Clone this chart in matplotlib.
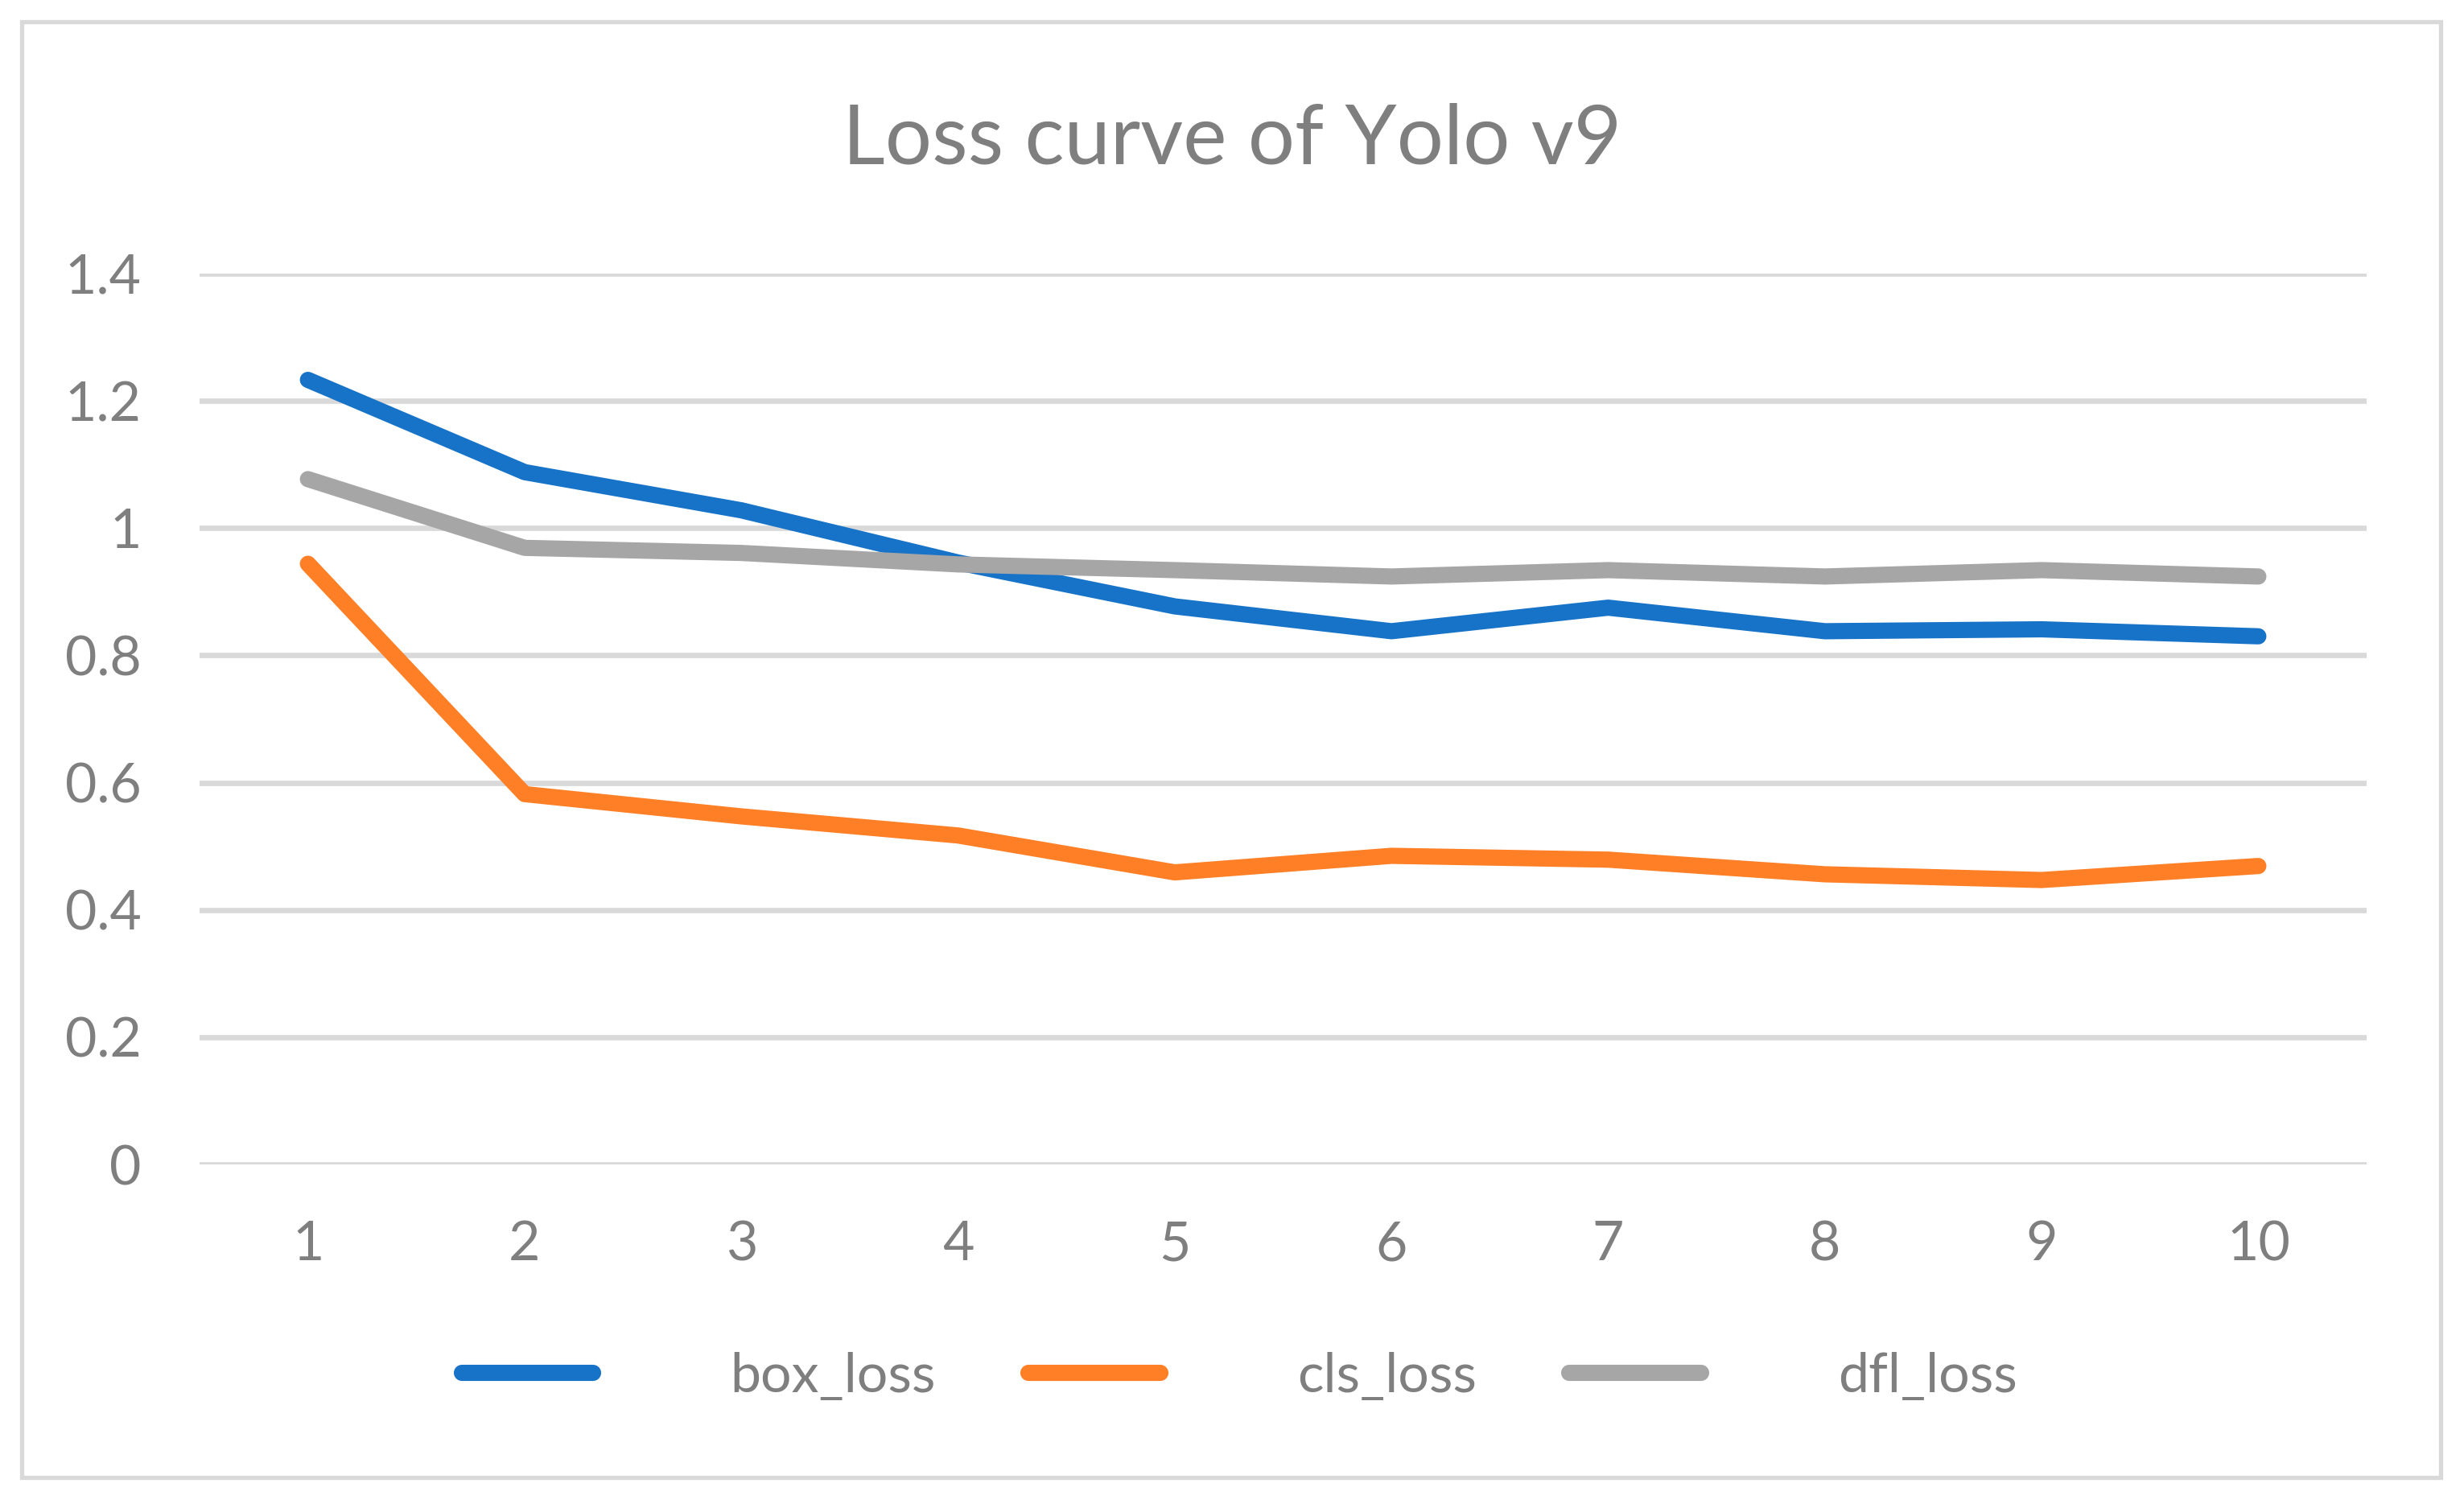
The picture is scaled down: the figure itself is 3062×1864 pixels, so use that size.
import numpy as np
from matplotlib import pyplot as plt
from matplotlib.patches import Rectangle

plt.rcParams['font.family'] = ['Lato', 'DejaVu Sans']

# Data
epochs = [1, 2, 3, 4, 5, 6, 7, 8, 9, 10]
box_loss = [1.233, 1.088, 1.028, 0.946, 0.877, 0.838, 0.875, 0.838, 0.841, 0.830]
cls_loss = [0.944, 0.582, 0.547, 0.517, 0.459, 0.485, 0.479, 0.456, 0.447, 0.469]
dfl_loss = [1.077, 0.969, 0.961, 0.943, 0.934, 0.924, 0.934, 0.924, 0.934, 0.924]
y_ticks = [0, 0.2, 0.4, 0.6, 0.8, 1.0, 1.2, 1.4]

txt = '#7f7f7f'
grid = '#d9d9d9'

fig = plt.figure(figsize=(30.62, 18.64), dpi=100)
ax = fig.add_axes([0.081, 0.2237, 0.8795, 0.5939])

ax.plot(epochs, box_loss, color='#1773c8', lw=14.5, solid_capstyle='round',
        solid_joinstyle='round', label='box_loss', zorder=3)
ax.plot(epochs, cls_loss, color='#fe7f26', lw=14.5, solid_capstyle='round',
        solid_joinstyle='round', label='cls_loss', zorder=4)
ax.plot(epochs, dfl_loss, color='#a6a6a6', lw=14.5, solid_capstyle='round',
        solid_joinstyle='round', label='dfl_loss', zorder=5)

ax.set_xlim(0.5, 10.5)
ax.set_ylim(0, 1.4)
ax.set_xticks(epochs)
ax.set_xticklabels([str(e) for e in epochs])
ax.set_yticks(y_ticks)
ax.set_yticklabels(['%g' % v for v in y_ticks])
ax.tick_params(length=0, labelsize=49, colors=txt)
ax.tick_params(axis='y', pad=52)
ax.tick_params(axis='x', pad=50)
for s in ax.spines.values():
    s.set_visible(False)
ax.yaxis.grid(True, color=grid, lw=4.8, zorder=0)
ax.set_axisbelow(True)
ax.set_clip_on(False)

fig.text(0.5, 1 - 175 / 1864, 'Loss curve of Yolo v9', ha='center', va='center',
         fontsize=74, color=txt)

fig.legend(loc='center', bbox_to_anchor=(0.503, 0.082), ncol=3, frameon=False,
           fontsize=49, labelcolor=txt, handlelength=2.4, handletextpad=2.5,
           columnspacing=1.7)

# outer chart border
fig.patches.append(Rectangle((27 / 3062, 1 - 1836 / 1864), 3006 / 3062, 1809 / 1864,
                             transform=fig.transFigure, fill=False, ec=grid, lw=3.8))

plt.savefig('out.png', dpi=100)
